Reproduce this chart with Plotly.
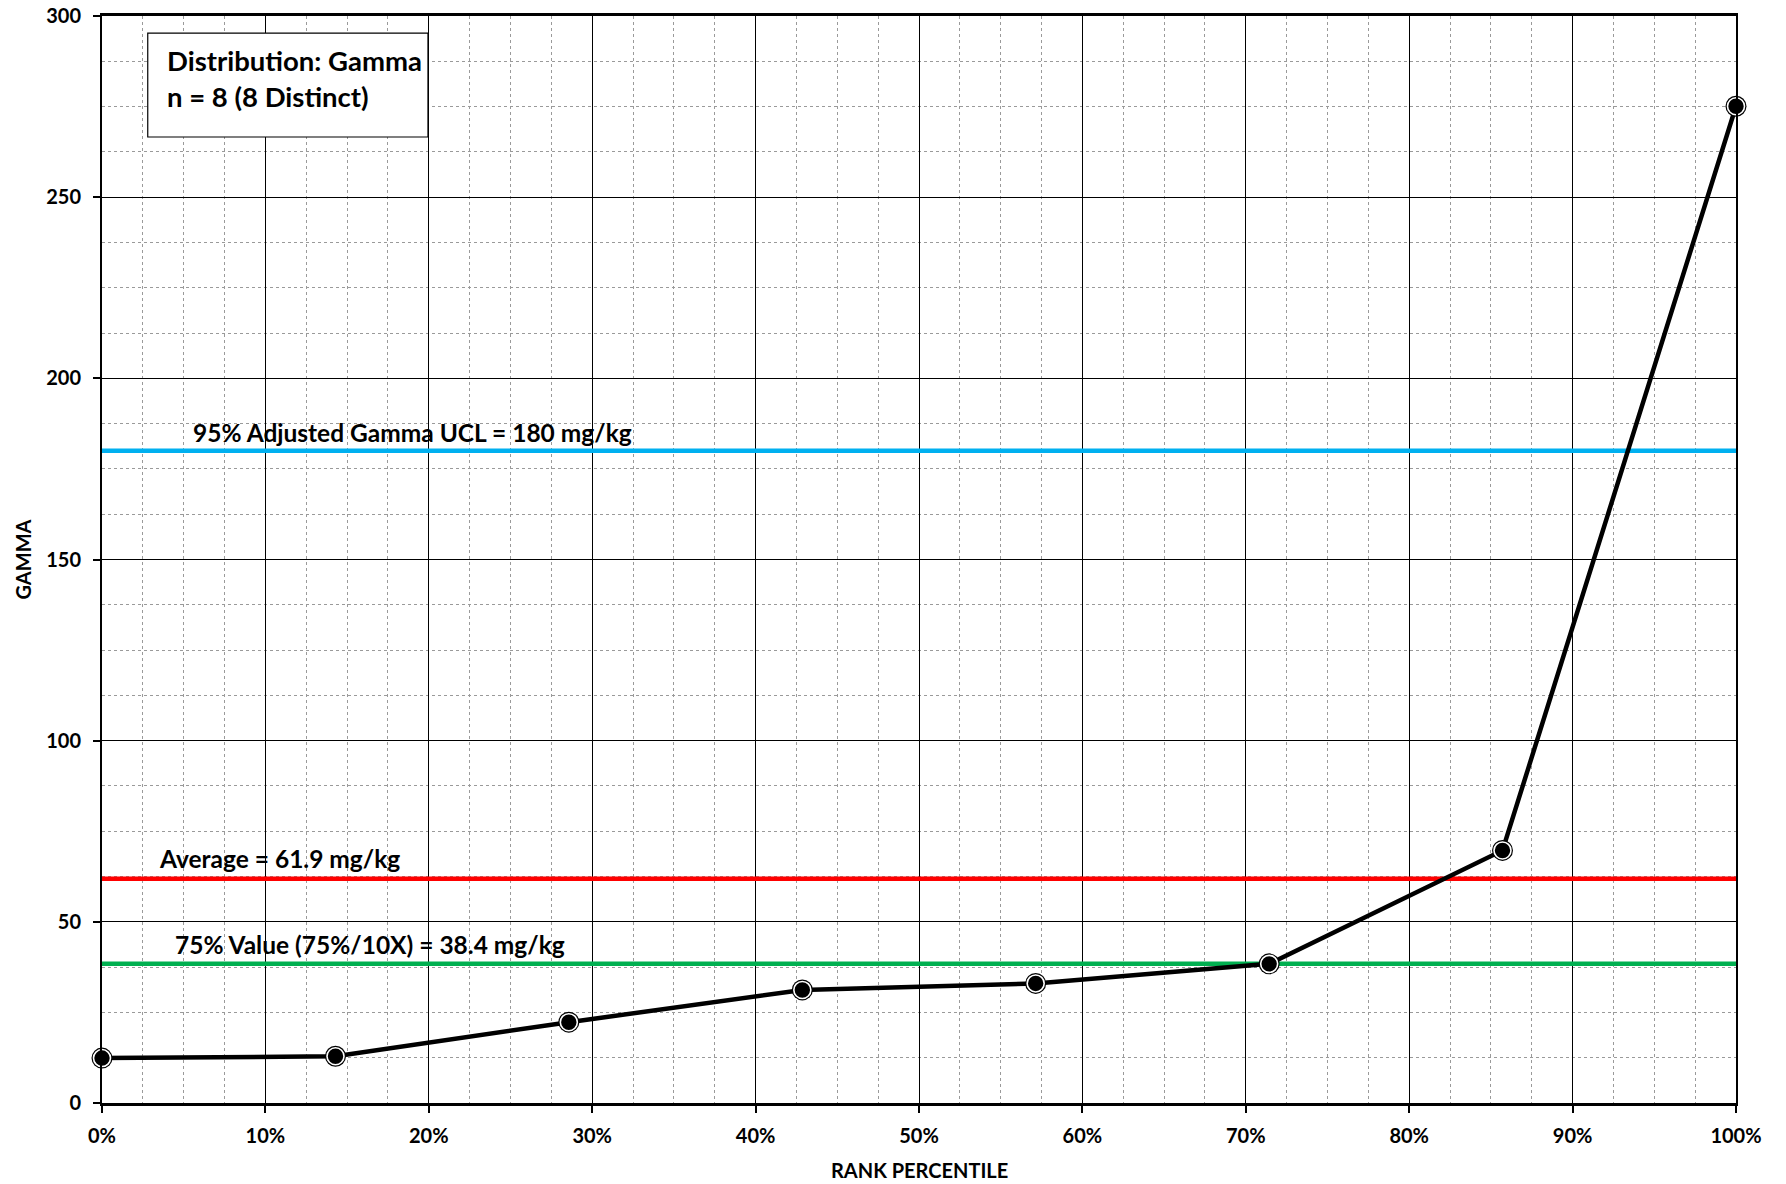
import plotly.graph_objects as go

rank_pct = [0.0, 0.1429, 0.2857, 0.4286, 0.5714, 0.7143, 0.8571, 1.0]
gamma_vals = [12.4, 12.9, 22.3, 31.2, 33.0, 38.4, 69.7, 275.1]

ucl_value = 180
avg_value = 61.9
p75_value = 38.4

ucl_label = "95% Adjusted Gamma UCL = 180 mg/kg"
avg_label = "Average = 61.9 mg/kg"
p75_label = "75% Value (75%/10X) = 38.4 mg/kg"
box_lines = ["Distribution: Gamma", "n = 8 (8 Distinct)"]
x_title = "RANK PERCENTILE"
y_title = "GAMMA"

FONT = "Lato"

fig = go.Figure()

# reference lines
for val, col in [(ucl_value, "#00B0F0"), (avg_value, "#FF0000"), (p75_value, "#00B050")]:
    fig.add_trace(go.Scatter(x=[0, 1], y=[val, val], mode="lines",
                             line=dict(color=col, width=4.5), hoverinfo="skip",
                             showlegend=False, cliponaxis=False))

# data line
fig.add_trace(go.Scatter(x=rank_pct, y=gamma_vals, mode="lines",
                         line=dict(color="black", width=4.5), showlegend=False,
                         cliponaxis=False))
# markers: outer black ring, white ring, black fill
fig.add_trace(go.Scatter(x=rank_pct, y=gamma_vals, mode="markers",
                         marker=dict(size=21, color="black", line=dict(width=0)),
                         showlegend=False, cliponaxis=False))
fig.add_trace(go.Scatter(x=rank_pct, y=gamma_vals, mode="markers",
                         marker=dict(size=17, color="black", line=dict(width=1.6, color="white")),
                         showlegend=False, cliponaxis=False))

ann_font = dict(family=FONT, size=24.5, color="black")
fig.add_annotation(x=0.0545, y=ucl_value, xref="x", yref="y", text="<b>%s</b>" % ucl_label,
                   showarrow=False, xanchor="left", yanchor="bottom", yshift=2, font=ann_font)
fig.add_annotation(x=0.0337, y=avg_value, xref="x", yref="y", text="<b>%s</b>" % avg_label,
                   showarrow=False, xanchor="left", yanchor="bottom", yshift=4, font=ann_font)
fig.add_annotation(x=0.0435, y=p75_value, xref="x", yref="y", text="<b>%s</b>" % p75_label,
                   showarrow=False, xanchor="left", yanchor="bottom", yshift=3, font=ann_font)

# info box
fig.add_shape(type="rect", xref="x", yref="y", x0=0.028, x1=0.1995, y0=266.6, y1=295.3,
              line=dict(color="black", width=1.2), fillcolor="white", layer="above")
fig.add_annotation(x=0.0385, y=287.6, xref="x", yref="y", text="<b>%s</b>" % box_lines[0],
                   showarrow=False, xanchor="left", yanchor="middle",
                   font=dict(family=FONT, size=27.5, color="black"))
fig.add_annotation(x=0.0385, y=277.9, xref="x", yref="y", text="<b>%s</b>" % box_lines[1],
                   showarrow=False, xanchor="left", yanchor="middle",
                   font=dict(family=FONT, size=27.5, color="black"))

# axis titles
title_font = dict(family=FONT, size=20, color="black")
fig.add_annotation(x=0.5, y=0, xref="paper", yref="paper", text="<b>%s</b>" % x_title,
                   showarrow=False, xanchor="center", yanchor="middle", yshift=-67,
                   font=title_font)
fig.add_annotation(x=0, y=0.5, xref="paper", yref="paper", text="<b>%s</b>" % y_title,
                   showarrow=False, xanchor="center", yanchor="middle", xshift=-80,
                   textangle=-90, font=title_font)

tick_font = dict(family=FONT, size=20, color="black", weight="bold")
fig.update_layout(
    width=1786, height=1184,
    margin=dict(l=102, r=50, t=16, b=81, autoexpand=False),
    paper_bgcolor="white", plot_bgcolor="white",
    xaxis=dict(range=[0, 1], dtick=0.1, tickformat=".0%", showgrid=True,
               gridcolor="black", gridwidth=1, zeroline=False, automargin=False,
               showline=True, linecolor="black", linewidth=2.5, mirror=True,
               ticks="outside", ticklen=7, tickcolor="black", tickwidth=2,
               tickfont=tick_font, ticklabelstandoff=6,
               minor=dict(dtick=0.025, showgrid=True, gridcolor="#9a9a9a",
                          griddash="dot", gridwidth=1)),
    yaxis=dict(range=[0, 300], dtick=50, showgrid=True,
               gridcolor="black", gridwidth=1, zeroline=False, automargin=False,
               showline=True, linecolor="black", linewidth=2, mirror=True,
               ticks="outside", ticklen=7, tickcolor="black", tickwidth=2,
               tickfont=tick_font, ticklabelstandoff=8,
               minor=dict(dtick=12.5, showgrid=True, gridcolor="#9a9a9a",
                          griddash="dot", gridwidth=1)),
)

fig.write_html("out.html")
